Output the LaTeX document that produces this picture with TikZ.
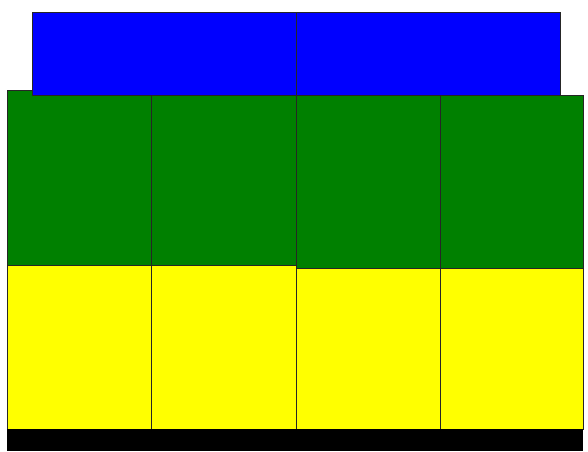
\documentclass[tikz,border=0pt]{standalone}
\begin{document}
\begin{tikzpicture}[x=1pt,y=-1pt,
  edge/.style={draw=black!85,line width=0.8pt},
  bluefill/.style={fill={rgb,255:red,0;green,0;blue,255}},
  greenfill/.style={fill={rgb,255:red,0;green,128;blue,0}},
  yellowfill/.style={fill={rgb,255:red,255;green,255;blue,0}},
  basebox/.style={fill=black}]
\useasboundingbox (0,0) rectangle (588,451);
% green row
\fill[greenfill] (7,90) rectangle (151,265);
\fill[greenfill] (151,90) rectangle (296,265);
\fill[greenfill] (296,95) rectangle (440,268);
\fill[greenfill] (440,95) rectangle (583,268);
\draw[edge] (7,90) rectangle (151,265);
\draw[edge] (151,90) rectangle (296,265);
\draw[edge] (296,95) rectangle (440,268);
\draw[edge] (440,95) rectangle (583,268);
% blue row
\fill[bluefill] (32,12) rectangle (296,95);
\fill[bluefill] (296,12) rectangle (560,95);
\draw[edge] (32,12) rectangle (296,95);
\draw[edge] (296,12) rectangle (560,95);
% yellow row
\fill[yellowfill] (7,265) rectangle (151,429);
\fill[yellowfill] (151,265) rectangle (296,429);
\fill[yellowfill] (296,268) rectangle (440,429);
\fill[yellowfill] (440,268) rectangle (583,429);
\draw[edge] (7,265) rectangle (151,429);
\draw[edge] (151,265) rectangle (296,429);
\draw[edge] (296,268) rectangle (440,429);
\draw[edge] (440,268) rectangle (583,429);
% base
\fill[basebox] (7,429) rectangle (583,451);
\end{tikzpicture}
\end{document}
